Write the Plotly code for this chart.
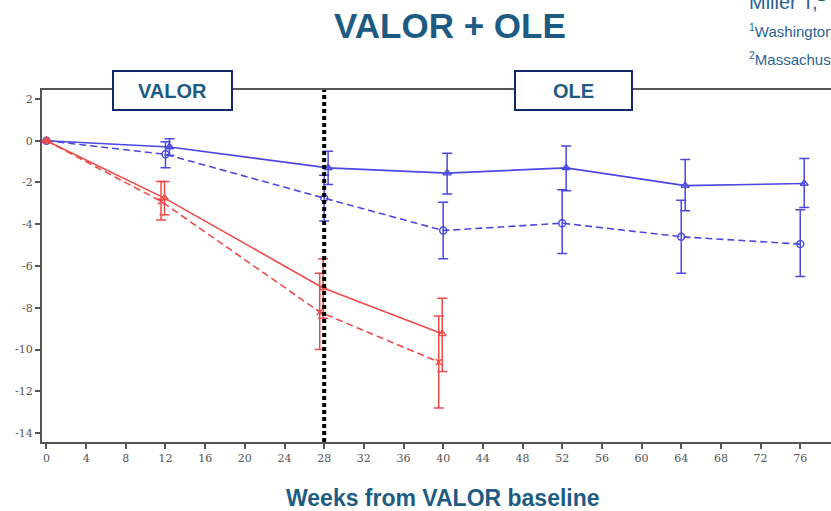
import plotly.graph_objects as go

weeks_blue = [0, 12, 28, 40, 52, 64, 76]
weeks_red = [0, 12, 28, 40]

blue_solid = [0, -0.3, -1.3, -1.55, -1.3, -2.15, -2.05]
blue_solid_hi = [0, 0.1, -0.5, -0.6, -0.25, -0.9, -0.85]
blue_solid_lo = [0, -0.7, -2.1, -2.55, -2.4, -3.35, -3.2]

blue_dash = [0, -0.65, -2.75, -4.3, -3.95, -4.6, -4.95]
blue_dash_hi = [0, -0.05, -1.65, -2.95, -2.35, -2.85, -3.3]
blue_dash_lo = [0, -1.3, -3.85, -5.65, -5.4, -6.35, -6.5]

red_solid = [0, -2.75, -7.05, -9.25]
red_solid_hi = [0, -1.95, -5.65, -7.55]
red_solid_lo = [0, -3.55, -8.5, -11.05]

red_dash = [0, -2.9, -8.2, -10.6]
red_dash_hi = [0, -1.95, -6.35, -8.4]
red_dash_lo = [0, -3.8, -10.0, -12.8]

x_ticks = list(range(0, 80, 4))
y_ticks = list(range(-14, 3, 2))

BLUE = "#4a48e0"
RED = "#ee4a48"
TEAL = "#1d5b82"

fig = go.Figure()


def add(weeks, vals, hi, lo, color, dash, symbol, size, offset):
    xs = [w + offset if w > 0 else w for w in weeks]
    fig.add_trace(go.Scatter(
        x=xs, y=vals, mode="lines+markers",
        line=dict(color=color, width=1.6, dash=dash),
        marker=dict(symbol=symbol, size=size, color=color, line=dict(color=color, width=1.4)),
        error_y=dict(type="data", symmetric=False,
                     array=[h - v for h, v in zip(hi, vals)],
                     arrayminus=[v - l for v, l in zip(vals, lo)],
                     color=color, thickness=1.5, width=5),
        showlegend=False,
    ))


add(weeks_blue, blue_solid, blue_solid_hi, blue_solid_lo, BLUE, "solid", "triangle-up-open", 7, 0.4)
add(weeks_blue, blue_dash, blue_dash_hi, blue_dash_lo, BLUE, "7px,4px", "circle-open", 7, 0.0)
add(weeks_red, red_solid, red_solid_hi, red_solid_lo, RED, "solid", "triangle-up-open", 7, -0.1)
add(weeks_red, red_dash, red_dash_hi, red_dash_lo, RED, "7px,4px", "x-thin-open", 6, -0.45)

# vertical divider at week 28
fig.add_shape(type="line", xref="x", yref="paper", x0=28, x1=28, y0=0, y1=1,
              line=dict(color="black", width=4, dash="4px,3px"))

W, H = 831, 511
L, R, T, B = 42, 0, 90, 69
pw, ph = W - L - R, H - T - B


def px(x):
    return (x - L) / pw


def py(y):
    return (H - B - y) / ph


for label, x0, x1 in [("VALOR", 113, 232), ("OLE", 515, 632)]:
    fig.add_shape(type="rect", xref="paper", yref="paper",
                  x0=px(x0), x1=px(x1), y0=py(110), y1=py(71),
                  line=dict(color="#0e2a6b", width=2), fillcolor="white", layer="above")
    fig.add_annotation(xref="paper", yref="paper", x=px((x0 + x1) / 2), y=py(91),
                       text="<b>%s</b>" % label, showarrow=False,
                       font=dict(family="Arial, Liberation Sans", size=20, color=TEAL),
                       xanchor="center", yanchor="middle")

fig.add_annotation(xref="paper", yref="paper", x=px(450), y=py(26),
                   text="<b>VALOR + OLE</b>", showarrow=False,
                   font=dict(family="Arial, Liberation Sans", size=35, color=TEAL),
                   xanchor="center", yanchor="middle")

fig.add_annotation(xref="paper", yref="paper", x=px(443), y=py(498),
                   text="<b>Weeks from VALOR baseline</b>", showarrow=False,
                   font=dict(family="Arial, Liberation Sans", size=23, color=TEAL),
                   xanchor="center", yanchor="middle")

for txt, yc, sz in [("Miller T,<sup>1</sup> C", 1, 20), ("<sup>1</sup>Washington", 30, 15),
                    ("<sup>2</sup>Massachuse", 58, 15)]:
    fig.add_annotation(xref="paper", yref="paper", x=px(747), y=py(yc),
                       text=txt, showarrow=False,
                       font=dict(family="Arial, Liberation Sans", size=sz, color="#2a5f92"),
                       xanchor="left", yanchor="middle")

tickfont = dict(family="DejaVu Serif, Liberation Serif", size=11, color="#555")
fig.update_xaxes(range=[-0.45, 79.1], tickvals=x_ticks, ticktext=[str(t) for t in x_ticks],
                 showline=True, linecolor="#555", linewidth=2, mirror=True,
                 ticks="outside", ticklen=5, tickcolor="#555", tickwidth=1.5,
                 showgrid=False, zeroline=False, tickfont=tickfont)
fig.update_yaxes(range=[-14.43, 2.43], tickvals=y_ticks,
                 ticktext=[str(t) for t in y_ticks],
                 showline=True, linecolor="#555", linewidth=2,
                 ticks="outside", ticklen=5, tickcolor="#555", tickwidth=1.5,
                 showgrid=False, zeroline=False, tickfont=tickfont)

fig.update_layout(width=W, height=H, margin=dict(l=L, r=R, t=T, b=B),
                  plot_bgcolor="white", paper_bgcolor="white")

fig.write_html("out.html")
